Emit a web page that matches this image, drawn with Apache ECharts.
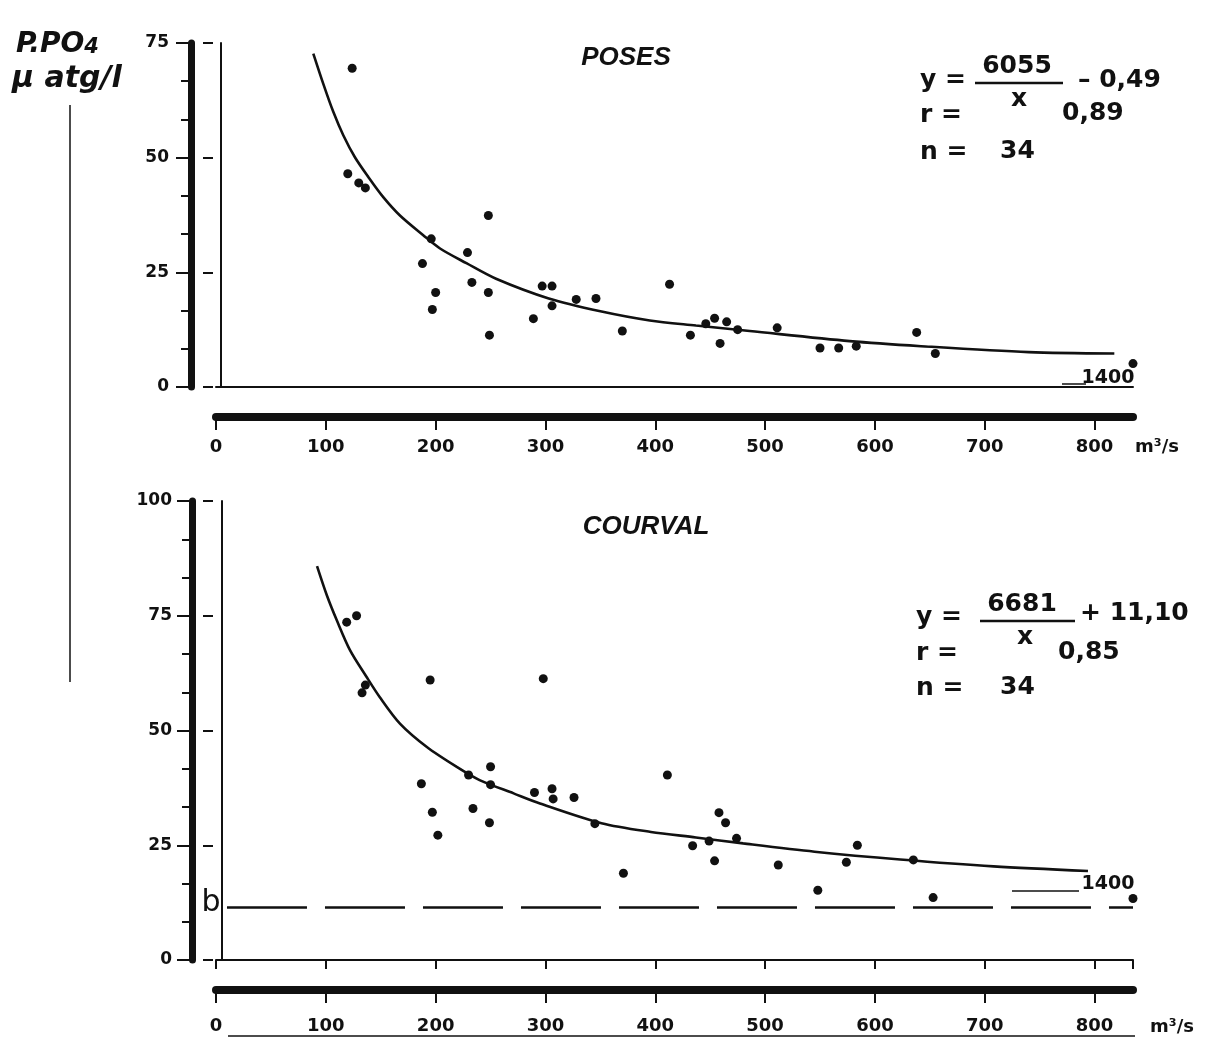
<!DOCTYPE html>
<html>
<head>
<meta charset="utf-8">
<script src="https://cdn.jsdelivr.net/npm/echarts@6/dist/echarts.min.js"></script>
<style>
  html, body { margin: 0; padding: 0; background: #fff; }
  #chart { width: 1208px; height: 1042px; }
</style>
</head>
<body>
<div id="chart"></div>
<script>
// 两个测站：débit (m3/s) 与 P.PO4 浓度的散点 + 拟合曲线

// POSES 散点 [流量, P.PO4]
const posesPoints = [
  [120, 46.5], [124, 69.5], [130, 44.5], [136, 43.4], [188, 26.9], [196, 32.3], [197, 16.9], [200, 20.6],
  [229, 29.3], [233, 22.8], [248, 37.4], [248, 20.6], [249, 11.3], [289, 14.9], [297, 22.0], [306, 22.0],
  [306, 17.7], [328, 19.1], [346, 19.3], [370, 12.2], [413, 22.4], [432, 11.3], [446, 13.8], [454, 15.0],
  [459, 9.5], [465, 14.2], [475, 12.5], [511, 12.9], [550, 8.5], [567, 8.5], [583, 8.9], [638, 11.9],
  [655, 7.3], [835, 5.1]
]
// POSES 曲线（从图上读的点）
const posesCurve = [
  [88.6, 72.7], [97.7, 66.1], [106.8, 60.0], [115.9, 54.9], [126.5, 50.1], [138.7, 45.8], [152.3, 41.4],
  [167.5, 37.4], [188.7, 33.1], [204, 30.2], [228, 27.0], [255, 23.6], [303, 19.3], [350, 16.5],
  [395, 14.5], [437, 13.4], [486, 12.2], [577, 10.0], [642, 8.9], [740, 7.6], [818, 7.3]
]

// COURVAL 散点
const courvalPoints = [
  [119, 73.6], [128, 75.0], [133, 58.2], [136, 59.9], [187, 38.4], [195, 61.0], [197, 32.2], [202, 27.2],
  [230, 40.3], [234, 33.0], [249, 29.9], [250, 42.1], [250, 38.2], [290, 36.5], [298, 61.3], [306, 37.3],
  [307, 35.1], [326, 35.4], [345, 29.7], [371, 18.9], [411, 40.3], [434, 24.9], [449, 25.9], [454, 21.6],
  [458, 32.1], [464, 29.9], [474, 26.5], [512, 20.7], [548, 15.2], [574, 21.3], [584, 25.0], [635, 21.8],
  [653, 13.6], [835, 13.4]
]
// COURVAL 曲线
const courvalCurve = [
  [92, 85.8], [101, 79.4], [110, 74.0], [122, 67.5], [137, 61.7], [149, 57.3], [167.5, 51.5], [192, 46.4],
  [219, 42.1], [240, 39.2], [271, 36.3], [295, 34.1], [351, 29.8], [396, 27.9], [437, 26.7], [480, 25.4],
  [545, 23.6], [623, 21.9], [708, 20.4], [794, 19.4]
]

// 虚线 b
const bLevel = 11.5
const bRange = [10, 835]

// 坐标轴范围
const xRange = [0, 835]
const yTopRange = [0, 75]
const yBottomRange = [0, 100]

const ink = '#111'
const numFont = 'bold 18px "DejaVu Sans"'

function frameX(grid, ticks) {
  return {
    type: 'value', gridIndex: grid, position: 'bottom', offset: 0,
    min: xRange[0], max: xRange[1], interval: 100,
    axisLine: { show: true, onZero: false, lineStyle: { color: ink, width: 2 } },
    axisTick: { show: ticks, inside: false, length: 9, lineStyle: { color: ink, width: 2 } },
    axisLabel: { show: false }, splitLine: { show: false }
  }
}
function thickX(grid, offset, margin) {
  return {
    type: 'value', gridIndex: grid, position: 'bottom', offset: offset,
    min: xRange[0], max: xRange[1], interval: 100,
    axisLine: { show: true, onZero: false, lineStyle: { color: ink, width: 8 } },
    axisTick: { show: true, length: 13, lineStyle: { color: ink, width: 2 } },
    axisLabel: { show: true, color: ink, fontFamily: 'DejaVu Sans', fontWeight: 'bold', fontSize: 18,
      margin: margin, showMaxLabel: false },
    splitLine: { show: false }
  }
}
function frameY(grid, range, offset) {
  return {
    type: 'value', gridIndex: grid, position: 'left', min: range[0], max: range[1], interval: 25, offset: offset,
    axisLine: { show: true, onZero: false, lineStyle: { color: ink, width: 2 } },
    axisTick: { show: false }, axisLabel: { show: false }, splitLine: { show: false }
  }
}
function thickY(grid, range, offset, margin) {
  return {
    type: 'value', gridIndex: grid, position: 'left', min: range[0], max: range[1], interval: 25, offset: offset,
    axisLine: { show: true, onZero: false, lineStyle: { color: ink, width: 7 } },
    axisTick: { show: true, length: 15, lineStyle: { color: ink, width: 2 } },
    minorTick: { show: true, splitNumber: 3, length: 10, lineStyle: { color: ink, width: 2 } },
    axisLabel: { show: true, color: ink, fontFamily: 'DejaVu Sans', fontWeight: 'bold', fontSize: 17, margin: margin },
    splitLine: { show: false }, minorSplitLine: { show: false }
  }
}
function dashY(grid, range) {
  return {
    type: 'value', gridIndex: grid, position: 'left', min: range[0], max: range[1], interval: 25, offset: 3,
    axisLine: { show: false, onZero: false },
    axisTick: { show: true, length: 10, lineStyle: { color: ink, width: 2 } },
    axisLabel: { show: false }, splitLine: { show: false }
  }
}

function txt(x, y, text, font, align) {
  return { type: 'text', x: x, y: y, style: { text: text, font: font, fill: ink,
    align: align || 'left', verticalAlign: 'middle', textAlign: align || 'left', textVerticalAlign: 'middle' } }
}
function seg(x1, y1, x2, y2, w) {
  return { type: 'line', shape: { x1: x1, y1: y1, x2: x2, y2: y2 }, style: { stroke: ink, lineWidth: w || 2 } }
}

const eqFont = 'bold 25px "DejaVu Sans"'
const titleFont = 'italic bold 26px "Liberation Sans"'

let option = {
  backgroundColor: '#fff',
  animation: false,
  grid: [
    { left: 216, top: 43, width: 917, height: 344 },
    { left: 216, top: 501, width: 917, height: 459 }
  ],
  xAxis: [
    frameX(0, false),
    thickX(0, 30, 21),
    frameX(1, true),
    thickX(1, 30, 27)
  ],
  yAxis: [
    frameY(0, yTopRange, -5),
    thickY(0, yTopRange, 25, 22),
    dashY(0, yTopRange),
    frameY(1, yBottomRange, -6),
    thickY(1, yBottomRange, 24, 20),
    dashY(1, yBottomRange)
  ],
  series: [
    { type: 'scatter', xAxisIndex: 0, yAxisIndex: 0, data: posesPoints, symbolSize: 9, clip: false,
      itemStyle: { color: ink, opacity: 1 } },
    { type: 'line', xAxisIndex: 0, yAxisIndex: 0, data: posesCurve, smooth: 0.3,
      showSymbol: false, lineStyle: { color: ink, width: 2.6 } },
    { type: 'scatter', xAxisIndex: 2, yAxisIndex: 3, data: courvalPoints, symbolSize: 9, clip: false,
      itemStyle: { color: ink, opacity: 1 } },
    { type: 'line', xAxisIndex: 2, yAxisIndex: 3, data: courvalCurve, smooth: 0.3,
      showSymbol: false, lineStyle: { color: ink, width: 2.6 },
      markLine: {
        silent: true, symbol: 'none', label: { show: false },
        lineStyle: { color: ink, width: 2.5, type: [80, 18] },
        data: [[{ coord: [bRange[0], bLevel] }, { coord: [bRange[1], bLevel] }]]
      } }
  ],
  graphic: [
    // 纵轴名称
    { type: 'text', x: 16, y: 45, style: { text: 'P.PO{s|4}', font: 'italic bold 28px "DejaVu Sans"', fill: ink,
      verticalAlign: 'middle', textVerticalAlign: 'middle',
      rich: { s: { font: 'italic bold 21px "DejaVu Sans"', fill: ink, padding: [6, 0, 0, 0] } } } },
    txt(12, 79, 'μ atg/l', 'italic bold 30px "DejaVu Sans"'),
    seg(70, 105, 70, 682, 1.5),
    // 标题
    txt(626, 58, 'POSES', titleFont, 'center'),
    txt(646, 527, 'COURVAL', titleFont, 'center'),
    // POSES 公式
    txt(920, 80, 'y =', eqFont),
    txt(1017, 66, '6055', eqFont, 'center'),
    seg(975, 83, 1063, 83, 2.5),
    txt(1019, 99, 'x', eqFont, 'center'),
    txt(1078, 80, '– 0,49', eqFont),
    txt(920, 115, 'r =', eqFont),
    txt(1062, 113, '0,89', eqFont),
    txt(920, 152, 'n =', eqFont),
    txt(1000, 151, '34', eqFont),
    // COURVAL 公式
    txt(916, 617, 'y =', eqFont),
    txt(1022, 604, '6681', eqFont, 'center'),
    seg(980, 621, 1075, 621, 2.5),
    txt(1025, 637, 'x', eqFont, 'center'),
    txt(1080, 613, '+ 11,10', eqFont),
    txt(916, 653, 'r =', eqFont),
    txt(1058, 652, '0,85', eqFont),
    txt(916, 688, 'n =', eqFont),
    txt(1000, 687, '34', eqFont),
    // 断轴标记 1400
    txt(1108, 378, '1400', 'bold 19px "DejaVu Sans"', 'center'),
    seg(1062, 384, 1086, 384, 1.5),
    txt(1108, 884, '1400', 'bold 19px "DejaVu Sans"', 'center'),
    seg(1012, 891, 1079, 891, 1.5),
    // b
    txt(211, 903, 'b', '30px "DejaVu Sans"', 'center'),
    // 单位
    txt(1135, 447, 'm³/s', numFont),
    txt(1150, 1027, 'm³/s', numFont),
    seg(228, 1036, 1135, 1036, 1.5)
  ]
}

echarts.init(document.getElementById('chart')).setOption(option)
</script>
</body>
</html>
